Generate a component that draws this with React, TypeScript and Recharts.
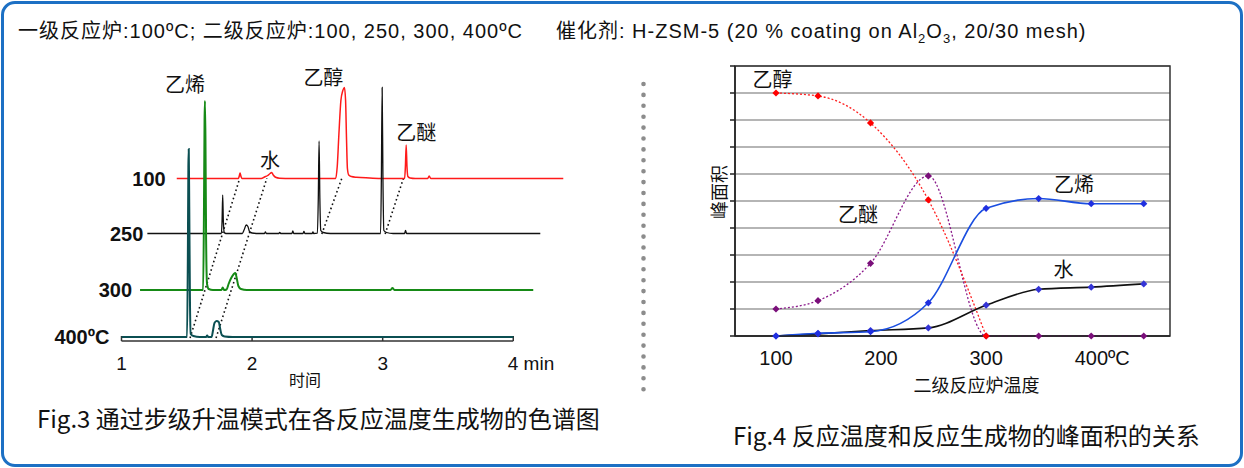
import React from 'react'
import {
  CartesianGrid,
  Label,
  Line,
  LineChart,
  ReferenceArea,
  ReferenceDot,
  ReferenceLine,
  XAxis,
  YAxis,
} from 'recharts'

// ---- Fig.3 chromatograms: [time (min), signal above the trace baseline]
const trace100 = [
  [1.423, 0], [1.895, 0], [1.902, 2.5], [1.908, 5.5], [1.914, 2.5], [1.922, 0],
  [2.07, 0], [2.095, 1.5], [2.12, 3], [2.138, 5], [2.15, 6], [2.162, 3.5], [2.18, 1.2], [2.21, 0.3], [2.3, 0],
  [2.64, 0], [2.652, 12], [2.665, 45], [2.68, 78], [2.695, 88], [2.707, 91], [2.716, 78], [2.723, 40],
  [2.73, 10], [2.74, 3.5], [2.76, 2], [2.8, 1.2], [2.9, 0.5], [3.0, 0],
  [3.168, 0], [3.174, 12], [3.18, 33.5], [3.186, 12], [3.193, 2], [3.21, 0.5], [3.25, 0],
  [3.345, 0], [3.356, 2.5], [3.368, 0], [4.383, 0],
]
const trace250 = [
  [1.198, 0], [1.765, 0], [1.77, 12], [1.775, 38.5], [1.78, 12], [1.787, 1], [1.8, 0],
  [1.925, 0], [1.94, 4], [1.955, 8.5], [1.968, 7], [1.98, 2], [2.0, 0.5], [2.05, 0],
  [2.095, 0], [2.102, 1.5], [2.109, 0], [2.205, 0], [2.212, 1.2], [2.219, 0], [2.305, 0], [2.312, 2.5],
  [2.319, 0], [2.39, 0], [2.397, 2], [2.404, 0], [2.46, 0], [2.466, 1.5], [2.472, 0],
  [2.5, 0.3], [2.507, 35], [2.513, 92.5], [2.519, 35], [2.526, 3], [2.545, 1], [2.6, 0],
  [2.984, 0], [2.99, 55], [2.996, 146], [3.002, 55], [3.009, 3], [3.03, 1], [3.08, 0],
  [3.168, 0], [3.175, 3], [3.183, 0], [4.207, 0],
]
const trace300 = [
  [1.142, 0], [1.625, 0], [1.631, 70], [1.636, 170], [1.639, 189], [1.643, 150], [1.648, 50], [1.655, 6],
  [1.668, 1], [1.7, 0], [1.765, 0], [1.775, 2.5], [1.785, 0], [1.805, 0.5], [1.82, 6], [1.84, 12],
  [1.86, 16], [1.872, 17], [1.882, 12], [1.895, 4], [1.915, 1], [1.96, 0],
  [3.06, 0], [3.075, 2], [3.09, 0], [4.153, 0],
]
const trace400 = [
  [1.0, 0], [1.502, 0], [1.508, 80], [1.512, 170], [1.515, 188], [1.519, 130], [1.524, 40], [1.53, 3],
  [1.55, 1], [1.6, 0], [1.648, 0], [1.656, 1.5], [1.664, 0], [1.69, 0], [1.7, 6], [1.712, 14],
  [1.728, 16], [1.745, 15], [1.756, 8], [1.768, 2], [1.79, 0.5], [1.85, 0], [4.0, 0],
]
const traceNames = ['100', '250', '300', '400ºC']
const traceBaselines = [162.5, 107.5, 51, 4]
const timeTicks = [1, 2, 3, 4]

// dotted lines linking the same compound across the stacked traces
const peakGuides = [
  [[1.525, 3], [1.903, 161.7]],
  [[1.724, 3], [2.113, 162.7]],
  [[2.534, 107], [2.687, 162.7]],
  [[3.019, 107], [3.159, 162.7]],
]
const peakNames = ['乙烯', '水', '乙醇', '乙醚']
const peakNamePos = [[1.487, 256], [2.138, 180], [2.546, 263], [3.257, 208]]

// ---- Fig.4 peak area vs. second reactor temperature
const temps = [100, 140, 190, 245, 300, 350, 400, 450]
const ethanol = [9.0, 8.89, 7.89, 5.04, 0, null, null, null]
const ether = [1.0, 1.31, 2.69, 5.93, 0, 0, 0, 0]
const ethylene = [0, 0.1, 0.16, 1.23, 4.73, 5.09, 4.9, 4.9]
const water = [0, 0.08, 0.2, 0.3, 1.14, 1.73, 1.81, 1.93]
const tempTicks = [100, 200, 300, 400]
const areaTicks = [0, 1, 2, 3, 4, 5, 6, 7, 8, 9, 10]
const seriesNames = ['乙醇', '乙醚', '乙烯', '水']
const seriesNamePos = [[96.7, 9.48], [178, 4.48], [383.6, 5.59], [373.6, 2.44]]

const LATIN = "'Liberation Sans', Arial, 'Noto Sans CJK SC', sans-serif"
const CJK = "'Noto Sans CJK SC', 'Liberation Sans', sans-serif"

const traceStyle = [
  { color: '#ff1a1a', width: 1.5, gap: 11 },
  { color: '#111111', width: 1.3, gap: 4 },
  { color: '#168a16', width: 2, gap: 8 },
  { color: '#0b4f52', width: 2, gap: 12 },
]
const traces = [trace100, trace250, trace300, trace400].map((tr, i) =>
  tr.map(([t, v]) => ({ t, v: v + traceBaselines[i] })),
)

const rows = temps.map((temp, i) => ({
  temp,
  ethanol: ethanol[i],
  ether: ether[i],
  ethylene: ethylene[i],
  water: water[i],
}))

function TimeTick({ x, y, payload }: any) {
  const last = payload.value === 4
  return (
    <text x={last ? x - 5.5 : x} y={y + 21} textAnchor={last ? 'start' : 'middle'} fontSize={19} fill="#111">
      {last ? '4 min' : payload.value}
    </text>
  )
}

function TempTick({ x, y, payload }: any) {
  const last = payload.value === 400
  return (
    <text x={last ? x - 16.5 : x} y={y + 21} textAnchor={last ? 'start' : 'middle'} fontSize={20} fill="#111">
      {last ? '400ºC' : payload.value}
    </text>
  )
}

const NoTick = () => <g />

const diamond = (color: string) => (p: any) => {
  const { cx, cy, index } = p
  if (cx == null || cy == null || p.value == null) return <g key={index} />
  const s = 3.6
  return <path key={index} d={`M${cx},${cy - s}L${cx + s},${cy}L${cx},${cy + s}L${cx - s},${cy}Z`} fill={color} />
}

function Chromatogram() {
  return (
    <LineChart width={620} height={400} margin={{ top: 71, right: 54.5, left: 121.5, bottom: 0 }}>
      <XAxis
        type="number"
        dataKey="t"
        domain={[1, 4.4]}
        ticks={timeTicks}
        height={59}
        axisLine={false}
        tickLine={false}
        tick={<TimeTick />}
        allowDataOverflow
      >
        <Label
          content={({ viewBox }: any) => (
            <text x={viewBox.x + 183.5} y={viewBox.y + 38} textAnchor="middle" dominantBaseline="central" fontSize={16} fill="#111" fontFamily={CJK}>
              时间
            </text>
          )}
        />
      </XAxis>
      <YAxis type="number" domain={[0, 270]} hide allowDataOverflow />
      <ReferenceLine segment={[{ x: 1, y: 0 }, { x: 4, y: 0 }]} stroke="#333" strokeWidth={1.5} />
      {timeTicks.map((k) => (
        <ReferenceLine key={k} segment={[{ x: k, y: 0 }, { x: k, y: 5 }]} stroke="#333" strokeWidth={1.5} />
      ))}
      {peakGuides.map((g, i) => (
        <Line
          key={'g' + i}
          data={g.map(([t, v]) => ({ t, v }))}
          dataKey="v"
          type="linear"
          stroke="#111"
          strokeWidth={1.6}
          strokeDasharray="1.6 2.8"
          dot={false}
          isAnimationActive={false}
        />
      ))}
      {traces.map((d, i) => (
        <Line
          key={traceNames[i]}
          data={d}
          dataKey="v"
          type="monotone"
          stroke={traceStyle[i].color}
          strokeWidth={traceStyle[i].width}
          dot={false}
          isAnimationActive={false}
        />
      ))}
      {traces.map((d, i) => (
        <ReferenceDot
          key={'n' + i}
          x={d[0].t}
          y={traceBaselines[i]}
          r={0}
          fill="none"
          stroke="none"
          ifOverflow="visible"
          label={{ value: traceNames[i], position: 'left', offset: traceStyle[i].gap, fontSize: 20, fontWeight: 'bold', fill: '#111' }}
        />
      ))}
      {peakNames.map((name, i) => (
        <ReferenceDot
          key={name}
          x={peakNamePos[i][0]}
          y={peakNamePos[i][1]}
          r={0}
          fill="none"
          stroke="none"
          ifOverflow="visible"
          label={{ value: name, position: 'center', fontSize: 20, fill: '#111', fontFamily: CJK }}
        />
      ))}
    </LineChart>
  )
}

function PeakArea() {
  return (
    <LineChart width={560} height={380} data={rows} margin={{ top: 26, right: 50, left: 45, bottom: 0 }}>
      <CartesianGrid vertical={false} stroke="#b5b5b5" strokeWidth={2} />
      <XAxis
        type="number"
        dataKey="temp"
        domain={[61, 475]}
        ticks={tempTicks}
        height={84}
        tickLine={false}
        axisLine={{ stroke: '#222', strokeWidth: 1.5 }}
        tick={<TempTick />}
      >
        <Label
          content={({ viewBox }: any) => (
            <text x={viewBox.x + viewBox.width * 0.555} y={viewBox.y + 48} textAnchor="middle" dominantBaseline="central" fontSize={18} fill="#111" fontFamily={CJK}>
              二级反应炉温度
            </text>
          )}
        />
      </XAxis>
      <YAxis
        type="number"
        domain={[0, 10]}
        ticks={areaTicks}
        interval={0}
        width={30}
        tick={<NoTick />}
        tickSize={5}
        tickLine={{ stroke: '#222', strokeWidth: 1.5 }}
        axisLine={{ stroke: '#222', strokeWidth: 1.5 }}
      >
        <Label
          content={({ viewBox }: any) => {
            const cx = viewBox.x + 13
            const cy = viewBox.y + viewBox.height / 2 - 9
            return (
              <text x={cx} y={cy} transform={`rotate(-90 ${cx} ${cy})`} textAnchor="middle" dominantBaseline="central" fontSize={18} fill="#111" fontFamily={CJK}>
                峰面积
              </text>
            )
          }}
        />
      </YAxis>
      <ReferenceArea x1={61} x2={475} y1={0} y2={10} fill="none" fillOpacity={0} stroke="#333" strokeWidth={1.5} />
      <Line dataKey="ether" type="monotone" stroke="#8b1a8b" strokeWidth={1.3} strokeDasharray="2 2" dot={diamond('#7a0f7a')} isAnimationActive={false} />
      <Line dataKey="ethanol" type="monotone" stroke="#ff2020" strokeWidth={1.3} strokeDasharray="2 2" dot={diamond('#ff0000')} isAnimationActive={false} />
      <Line dataKey="water" type="monotone" stroke="#111" strokeWidth={1.6} dot={diamond('#3434d6')} isAnimationActive={false} />
      <Line dataKey="ethylene" type="monotone" stroke="#1a4ee0" strokeWidth={1.6} dot={diamond('#1f2fe0')} isAnimationActive={false} />
      {seriesNames.map((name, i) => (
        <ReferenceDot
          key={name}
          x={seriesNamePos[i][0]}
          y={seriesNamePos[i][1]}
          r={0}
          fill="none"
          stroke="none"
          ifOverflow="visible"
          label={{ value: name, position: 'center', fontSize: 20, fill: '#111', fontFamily: CJK }}
        />
      ))}
    </LineChart>
  )
}

const headerStyle: React.CSSProperties = {
  position: 'absolute',
  top: 19,
  fontSize: 20,
  letterSpacing: 1,
  lineHeight: '24px',
  whiteSpace: 'nowrap',
}

export default function App() {
  return (
    <div style={{ position: 'absolute', left: 0, top: 0, width: 1244, height: 468, background: '#fff', fontFamily: LATIN, color: '#111' }}>
      <div style={{ position: 'absolute', left: 1, top: 1, width: 1236, height: 460, border: '3px solid #1c70c4', borderRadius: 14 }} />
      <div style={{ ...headerStyle, left: 18 }}>一级反应炉:100ºC; 二级反应炉:100, 250, 300, 400ºC</div>
      <div style={{ ...headerStyle, left: 556 }}>
        催化剂: H-ZSM-5 (20 % coating on Al<sub style={{ fontSize: 13 }}>2</sub>O<sub style={{ fontSize: 13 }}>3</sub>, 20/30 mesh)
      </div>
      <div style={{ position: 'absolute', left: 0, top: 0 }}>
        <Chromatogram />
      </div>
      <div style={{ position: 'absolute', left: 660, top: 40 }}>
        <PeakArea />
      </div>
      <svg style={{ position: 'absolute', left: 638, top: 78 }} width={12} height={330}>
        <line x1={5.5} y1={6} x2={5.5} y2={322} stroke="#8c8c8c" strokeWidth={4.6} strokeLinecap="round" strokeDasharray="0 10.9" />
      </svg>
      <div style={{ position: 'absolute', left: 37, top: 403, fontSize: 24, lineHeight: '30px', fontFamily: CJK, whiteSpace: 'nowrap' }}>
        Fig.3 通过步级升温模式在各反应温度生成物的色谱图
      </div>
      <div style={{ position: 'absolute', left: 733, top: 420, fontSize: 24, lineHeight: '30px', fontFamily: CJK, whiteSpace: 'nowrap' }}>
        Fig.4 反应温度和反应生成物的峰面积的关系
      </div>
    </div>
  )
}
